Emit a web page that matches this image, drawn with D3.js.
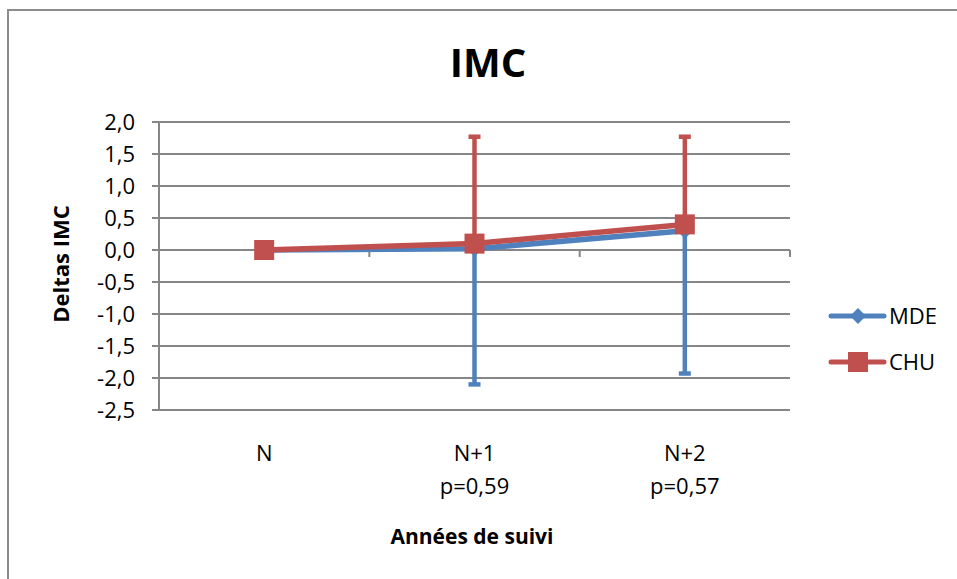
<html>
<script src='https://cdn.jsdelivr.net/npm/d3@7'></script>
<body style="margin:0;background:white;">
<svg id="chart" width="957" height="579"></svg>
<script>

// data
const categories = ["N", "N+1", "N+2"];
const pValues = ["", "p=0,59", "p=0,57"];
const yTicks = [2.0, 1.5, 1.0, 0.5, 0.0, -0.5, -1.0, -1.5, -2.0, -2.5];
const mdeValues = [0, 0.02, 0.3];
const chuValues = [0, 0.1, 0.4];
const mdeErrLow = [null, -2.1, -1.93];
const chuErrHigh = [null, 1.77, 1.77];

const font = "'Open Sans', sans-serif";
const blue = "#4F81BD";
const red = "#C0504D";
const grid = "#868686";

const svg = d3.select("#chart");

// outer frame
svg.append("rect")
    .attr("x", 8).attr("y", 10)
    .attr("width", 1000).attr("height", 700)
    .attr("fill", "white")
    .attr("stroke", "#8c8c8c")
    .attr("stroke-width", 2);

const margin = { left: 159, right: 790, top: 122, bottom: 410 };

const x = d3.scaleBand()
    .domain(categories)
    .range([margin.left, margin.right]);

const y = d3.scaleLinear()
    .domain([-2.5, 2.0])
    .range([margin.bottom, margin.top]);

const cx = d => x(d) + x.bandwidth() / 2;

// gridlines
svg.append("g")
    .selectAll("line")
    .data(yTicks)
    .enter()
    .append("line")
    .attr("x1", margin.left - 7)
    .attr("x2", margin.right)
    .attr("y1", d => y(d))
    .attr("y2", d => y(d))
    .attr("stroke", grid)
    .attr("stroke-width", 2);

// y axis line
svg.append("line")
    .attr("x1", margin.left).attr("x2", margin.left)
    .attr("y1", y(2.0)).attr("y2", y(-2.5))
    .attr("stroke", grid).attr("stroke-width", 2);

// y tick labels
svg.append("g")
    .selectAll("text")
    .data(yTicks)
    .enter()
    .append("text")
    .attr("x", 135)
    .attr("y", d => y(d))
    .attr("dy", "0.36em")
    .attr("text-anchor", "end")
    .attr("font-family", font)
    .attr("font-size", 22)
    .text(d => d3.format(".1f")(d).replace(".", ",").replace("−", "-"));

// x axis at zero with tick marks on category boundaries
svg.append("line")
    .attr("x1", margin.left).attr("x2", margin.right)
    .attr("y1", y(0)).attr("y2", y(0))
    .attr("stroke", grid).attr("stroke-width", 2);

svg.append("g")
    .selectAll("line")
    .data(categories)
    .enter()
    .append("line")
    .attr("x1", d => x(d) + x.bandwidth())
    .attr("x2", d => x(d) + x.bandwidth())
    .attr("y1", y(0))
    .attr("y2", y(0) + 7)
    .attr("stroke", grid).attr("stroke-width", 2);

// category labels
svg.append("g")
    .selectAll("text")
    .data(categories)
    .enter()
    .append("text")
    .attr("x", d => cx(d))
    .attr("y", 461)
    .attr("text-anchor", "middle")
    .attr("font-family", font)
    .attr("font-size", 22)
    .text(d => d);

svg.append("g")
    .selectAll("text")
    .data(pValues)
    .enter()
    .append("text")
    .attr("x", (d, i) => cx(categories[i]))
    .attr("y", 494)
    .attr("text-anchor", "middle")
    .attr("font-family", font)
    .attr("font-size", 22)
    .text(d => d);

// titles
svg.append("text")
    .attr("x", 488).attr("y", 77)
    .attr("text-anchor", "middle")
    .attr("font-family", font)
    .attr("font-weight", "bold")
    .attr("font-size", 40)
    .text("IMC");

svg.append("text")
    .attr("x", 472).attr("y", 544)
    .attr("text-anchor", "middle")
    .attr("font-family", font)
    .attr("font-weight", "bold")
    .attr("font-size", 21)
    .text("Années de suivi");

svg.append("text")
    .attr("transform", "translate(69, 264) rotate(-90)")
    .attr("text-anchor", "middle")
    .attr("font-family", font)
    .attr("font-weight", "bold")
    .attr("font-size", 22)
    .text("Deltas IMC");

// error bars
function errorBars(vals, ends, color) {
    const g = svg.append("g");
    categories.forEach((c, i) => {
        if (ends[i] === null) return;
        g.append("line")
            .attr("x1", cx(c)).attr("x2", cx(c))
            .attr("y1", y(vals[i])).attr("y2", y(ends[i]))
            .attr("stroke", color).attr("stroke-width", 4.5);
        g.append("line")
            .attr("x1", cx(c) - 6).attr("x2", cx(c) + 6)
            .attr("y1", y(ends[i])).attr("y2", y(ends[i]))
            .attr("stroke", color).attr("stroke-width", 4.5);
    });
}
errorBars(mdeValues, mdeErrLow, blue);
errorBars(chuValues, chuErrHigh, red);

const line = d3.line()
    .x((d, i) => cx(categories[i]))
    .y(d => y(d));

// MDE series
svg.append("path")
    .datum(mdeValues)
    .attr("d", line)
    .attr("fill", "none")
    .attr("stroke", blue)
    .attr("stroke-width", 5.5)
    .attr("stroke-linejoin", "round");

svg.append("g")
    .selectAll("path")
    .data(mdeValues)
    .enter()
    .append("path")
    .attr("d", d3.symbol(d3.symbolDiamond2, 160)())
    .attr("transform", (d, i) => `translate(${cx(categories[i])}, ${y(d)})`)
    .attr("fill", blue);

// CHU series
svg.append("path")
    .datum(chuValues)
    .attr("d", line)
    .attr("fill", "none")
    .attr("stroke", red)
    .attr("stroke-width", 5.5)
    .attr("stroke-linejoin", "round");

svg.append("g")
    .selectAll("rect")
    .data(chuValues)
    .enter()
    .append("rect")
    .attr("x", (d, i) => cx(categories[i]) - 10)
    .attr("y", d => y(d) - 10)
    .attr("width", 20)
    .attr("height", 20)
    .attr("fill", red);

// legend
const legend = [
    { name: "MDE", color: blue, y: 316 },
    { name: "CHU", color: red, y: 362 }
];

legend.forEach(l => {
    svg.append("line")
        .attr("x1", 831).attr("x2", 884)
        .attr("y1", l.y).attr("y2", l.y)
        .attr("stroke", l.color).attr("stroke-width", 5)
        .attr("stroke-linecap", "round");
    if (l.name === "MDE") {
        svg.append("path")
            .attr("d", d3.symbol(d3.symbolDiamond2, 160)())
            .attr("transform", `translate(858, ${l.y})`)
            .attr("fill", l.color);
    } else {
        svg.append("rect")
            .attr("x", 848).attr("y", l.y - 10)
            .attr("width", 20).attr("height", 20)
            .attr("fill", l.color);
    }
    svg.append("text")
        .attr("x", 889).attr("y", l.y)
        .attr("dy", "0.36em")
        .attr("font-family", font)
        .attr("font-size", 22)
        .text(l.name);
});

</script>
</body>
</html>
